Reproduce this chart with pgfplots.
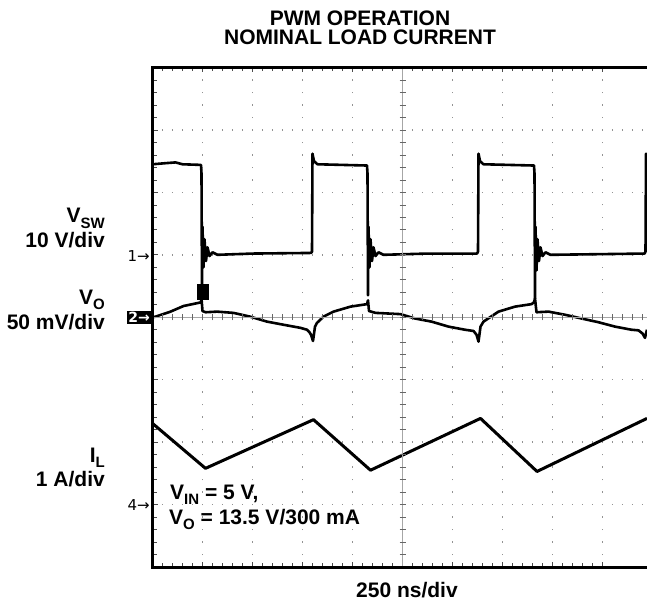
\documentclass[border=0pt]{standalone}
\usepackage{fontspec}
\setmainfont{Liberation Sans}
\newfontfamily\dv{DejaVu Sans}
\usepackage{pgfplots}
\pgfplotsset{compat=1.18}
\newcommand\lab{\fontsize{21}{25}\selectfont\bfseries}
\newcommand\sub[1]{\raisebox{-0.25em}{\fontsize{15}{15}\selectfont\bfseries #1}}
\begin{document}
\begin{tikzpicture}[x=1pt,y=1pt]
\useasboundingbox (0,0) rectangle (647,603);
\begin{axis}[
  at={(152.5pt,36pt)}, anchor=south west,
  scale only axis, width=494.5pt, height=499.5pt,
  xmin=0, xmax=9.89, ymin=0, ymax=8,
  xtick={0,...,9}, ytick={0,...,8},
  minor x tick num=4, minor y tick num=4,
  xticklabels={}, yticklabels={},
  tick align=inside, ytick pos=left,
  major tick length=5pt, minor tick length=4pt,
  every tick/.style={black!70, line width=0.7pt},
  grid=major,
  x grid style={gray!85, line width=1.4pt, dash pattern=on 1.4pt off 11.09pt, dash phase=0.7pt},
  y grid style={gray!85, line width=1.4pt, dash pattern=on 1.4pt off 8.6pt, dash phase=0.7pt},
  axis line style={draw=none},
  clip=true,
]
% V_SW (channel 1, ground at div 5)
\addplot[black, line width=2.6pt, line join=round] coordinates {
(0,6.45) (0.3,6.47) (0.46,6.48) (0.6,6.45) (0.97,6.44) (0.98,6.3) (0.99,4.35) (1.0,5.45) (1.02,4.8) (1.04,5.25) (1.07,4.9) (1.1,5.12) (1.14,4.98) (1.2,5.04) (1.3,5.0)
(2.0,5.02) (3.17,5.03) (3.19,5.05) (3.2,6.62) (3.23,6.5) (3.3,6.45) (4.29,6.43) (4.30,6.3) (4.31,4.35)
(4.32,5.45) (4.34,4.8) (4.36,5.25) (4.39,4.9) (4.42,5.12) (4.46,4.98) (4.52,5.04) (4.62,5.0)
(5.5,5.02) (6.49,5.02) (6.51,5.05) (6.52,6.62) (6.55,6.5) (6.62,6.45) (7.63,6.43) (7.64,6.3) (7.65,4.3)
(7.66,5.45) (7.68,4.75) (7.70,5.25) (7.73,4.9) (7.76,5.12) (7.80,4.98) (7.86,5.04) (7.96,5.0)
(9.84,5.02) (9.86,5.05) (9.87,6.62) (9.89,6.55)
};
% V_O (channel 2, ground at div 4)
\addplot[black, line width=2.6pt, line join=round] coordinates {
(0,4.0) (0.06,4.01) (0.36,4.09) (0.62,4.18) (0.92,4.23) (0.97,4.24) (0.98,4.3) (1.0,4.1) (1.06,4.08)
(1.29,4.09) (1.62,4.07) (1.95,4.01) (2.29,3.93) (2.62,3.88) (2.96,3.83) (3.09,3.80) (3.14,3.76) (3.17,3.72) (3.21,3.62)
(3.25,3.85) (3.29,3.91) (3.42,4.01) (3.62,4.09) (3.96,4.17) (4.29,4.21) (4.31,4.27) (4.33,4.1) (4.46,4.07)
(4.96,4.05) (5.25,3.98) (5.58,3.93) (5.92,3.85) (6.25,3.80) (6.42,3.78) (6.48,3.72) (6.52,3.61)
(6.56,3.85) (6.62,3.93) (6.92,4.09) (7.25,4.17) (7.58,4.21) (7.63,4.24) (7.65,4.3) (7.68,4.08)
(7.92,4.09) (8.25,4.04) (8.58,3.98) (8.92,3.92) (9.25,3.85) (9.58,3.80) (9.72,3.79) (9.8,3.74) (9.85,3.67) (9.89,3.80)
};
% I_L (channel 4, ground at div 1)
\addplot[black, line width=3pt, line join=round] coordinates {
(0,2.30) (1.06,1.58) (3.22,2.36) (4.36,1.55) (6.56,2.38) (7.69,1.53) (9.89,2.38)
};
\end{axis}
% centre cross-hair with fine divisions
\draw[gray!70, line width=0.6pt] (152.5,285.75) -- (647,285.75);
\draw[gray!70, line width=0.6pt] (402.5,36) -- (402.5,535.5);
\foreach \i in {1,...,49} \draw[black!60, line width=0.7pt] ({152.5+10*\i},282.75) -- ++(0,6);
\foreach \i in {1,...,39} \draw[black!60, line width=0.7pt] (399.5,{36+12.4875*\i}) -- ++(6,0);
% trigger marker
\fill[black] (197,303) rectangle (209,318.5);
% frame
\draw[line width=3pt, line join=miter] (647,535.5) -- (152.5,535.5) -- (152.5,36) -- (647,36);
% channel markers
\node[anchor=east, inner sep=0pt] at (150,347) {\dv\fontsize{15}{15}\selectfont 1→};
\node[anchor=east, fill=black, text=white, inner sep=1.5pt] at (151.5,285.75) {\dv\fontsize{14}{14}\selectfont\bfseries 2→};
\node[anchor=east, inner sep=0pt] at (150,98) {\dv\fontsize{15}{15}\selectfont 4→};
% titles and labels
\node[anchor=base, inner sep=0pt] at (360,577) {\lab PWM OPERATION};
\node[anchor=base, inner sep=0pt] at (360,558) {\lab NOMINAL LOAD CURRENT};
\node[anchor=base east, inner sep=0pt] at (105,380) {\lab V\sub{SW}};
\node[anchor=base east, inner sep=0pt] at (105,355) {\lab 10 V/div};
\node[anchor=base east, inner sep=0pt] at (105,299) {\lab V\sub{O}};
\node[anchor=base east, inner sep=0pt] at (105,274) {\lab 50 mV/div};
\node[anchor=base east, inner sep=0pt] at (105,141) {\lab I\sub{L}};
\node[anchor=base east, inner sep=0pt] at (105,117) {\lab 1 A/div};
\node[anchor=base west, inner sep=0pt] at (170,104) {\lab V\sub{IN} = 5 V,};
\node[anchor=base west, inner sep=0pt] at (169,79) {\lab V\sub{O} = 13.5 V/300 mA};
\node[anchor=base, inner sep=0pt] at (407,6) {\lab 250 ns/div};
\end{tikzpicture}
\end{document}
